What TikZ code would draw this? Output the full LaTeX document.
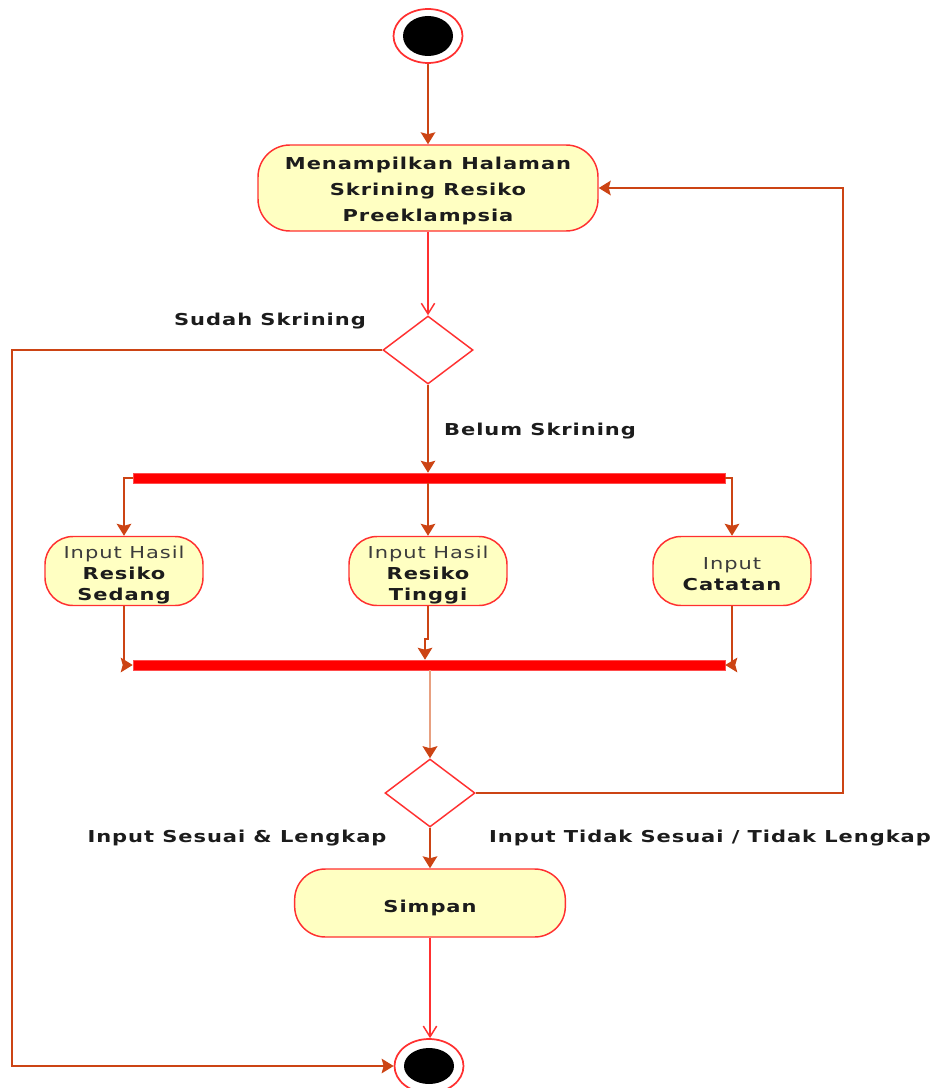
\documentclass[tikz,border=0pt]{standalone}
\usepackage{fontspec}
\usepackage{graphicx}
\usetikzlibrary{arrows.meta,shapes.geometric}
\newfontfamily\dvs[LetterSpace=4.5]{DejaVu Sans}
\newcommand{\stretchtxt}[1]{\scalebox{1.28}[1]{#1}}
\newcommand{\lowered}[2]{\raisebox{#1}[0pt][0pt]{#2}}
\definecolor{boxfill}{RGB}{255,255,194}
\definecolor{boxline}{RGB}{255,48,48}
\definecolor{flowc}{RGB}{204,68,20}
\definecolor{flowlight}{RGB}{232,160,128}
\definecolor{txt}{RGB}{28,28,28}
\definecolor{soft}{RGB}{60,60,60}
\tikzset{
  action/.style={draw=boxline, fill=boxfill, line width=1.1pt, rounded corners=24pt,
    inner sep=0pt, align=center, text=txt},
  decision/.style={diamond, draw=boxline, fill=white, line width=1.1pt, inner sep=0pt,
    minimum width=67.5pt, minimum height=51pt, aspect=1.32},
  bar/.style={fill=red, draw=red!70, line width=0.4pt, inner sep=0pt,
    minimum width=444pt, minimum height=7.5pt},
  terminal/.style={ellipse, draw=boxline, fill=white, line width=1.3pt, inner sep=0pt,
    minimum width=51.75pt, minimum height=40.5pt},
  conn/.style={draw=flowc, line width=1.1pt, -{Stealth[length=9pt,width=11pt,inset=1.5pt]}},
  openconn/.style={draw=boxline, line width=1.1pt, -{Straight Barb[length=8pt,width=10pt]}},
  guard/.style={font=\dvs\bfseries\fontsize{12.3}{14}\selectfont, text=txt, inner sep=0pt}
}
\begin{document}
\begin{tikzpicture}[x=0.75pt,y=-0.75pt]
\useasboundingbox (0,0) rectangle (937,1088);
\clip (0,0) rectangle (937,1088);

% start and end states
\node[terminal] (start) at (428,36) {};
\fill[black] (start.center) ellipse [x radius=18.75pt, y radius=15pt];
\node[terminal] (end) at (429,1066) {};
\fill[black] (end.center) ellipse [x radius=18.75pt, y radius=13.5pt];

% actions
\node[action, minimum width=255pt, minimum height=64.5pt] (act1) at (428,188)
  {\lowered{-4.4pt}{\stretchtxt{\dvs\bfseries\fontsize{12.3}{19.5}\selectfont
   \begin{tabular}{@{}c@{}}Menampilkan Halaman\\Skrining Resiko\\Preeklampsia\end{tabular}}}};
\node[action, minimum width=118.5pt, minimum height=51.75pt, rounded corners=21pt] (sedang) at (124,571)
  {\lowered{-6.3pt}{\stretchtxt{\dvs\fontsize{12.3}{15.75}\selectfont
   \begin{tabular}{@{}c@{}}{\color{soft}Input Hasil}\\\bfseries Resiko\\\bfseries Sedang\end{tabular}}}};
\node[action, minimum width=118.5pt, minimum height=51.75pt, rounded corners=21pt] (tinggi) at (428,571)
  {\lowered{-6.3pt}{\stretchtxt{\dvs\fontsize{12.3}{15.75}\selectfont
   \begin{tabular}{@{}c@{}}{\color{soft}Input Hasil}\\\bfseries Resiko\\\bfseries Tinggi\end{tabular}}}};
\node[action, minimum width=118.5pt, minimum height=51.75pt, rounded corners=21pt] (catatan) at (732,571)
  {\lowered{-6.6pt}{\stretchtxt{\dvs\fontsize{12.3}{15.75}\selectfont
   \begin{tabular}{@{}c@{}}{\color{soft}Input}\\\bfseries Catatan\end{tabular}}}};
\node[action, minimum width=203pt, minimum height=51pt, rounded corners=23pt] (simpan) at (430,903)
  {\lowered{-6.8pt}{\stretchtxt{\dvs\bfseries\fontsize{12.3}{14}\selectfont Simpan}}};

% decisions
\node[decision] (d1) at (428,350) {};
\node[decision] (d2) at (430,793) {};

% fork and join bars
\node[bar] (fork) at (429,478) {};
\node[bar] (join) at (429,665) {};

% guard labels
\node[guard] (gsudah) at (270,321) {\stretchtxt{Sudah Skrining}};
\node[guard] (gbelum) at (540,431) {\stretchtxt{Belum Skrining}};
\node[guard] (gsesuai) at (237,838) {\stretchtxt{Input Sesuai \& Lengkap}};
\node[guard] (gtidak) at (710,838) {\stretchtxt{Input Tidak Sesuai / Tidak Lengkap}};

% helper points for routed connectors
\coordinate (leftdown) at (12,1066);
\coordinate (rightup) at (843,188);
\coordinate (jog) at (425,639);

% flows
\draw[conn] (start) -- (act1);
\draw[openconn] (act1) -- (d1);
\draw[conn] (d1.west) -| (leftdown) -- (end);
\draw[conn] (d1.south) -- (d1.south |- fork.north);
\draw[conn] (fork.west) -| (sedang.north);
\draw[conn] (fork.south -| tinggi.north) -- (tinggi.north);
\draw[conn] (fork.east) -| (catatan.north);
\draw[conn] (sedang.south) |- (join.west);
\draw[conn] (tinggi.south) |- (jog) -- (jog |- join.north);
\draw[conn] (catatan.south) |- (join.east);
\draw[draw=flowlight, line width=2.2pt, -{Stealth[length=9pt,width=11pt,inset=1.5pt,color=flowc]}]
  (join.south -| d2.north) -- (d2.north);
\draw[conn] (d2.east) -| (rightup) -- (act1.east);
\draw[conn] (d2) -- (simpan);
\draw[openconn] (simpan.south) -- (simpan.south |- end.north);
\end{tikzpicture}
\end{document}
